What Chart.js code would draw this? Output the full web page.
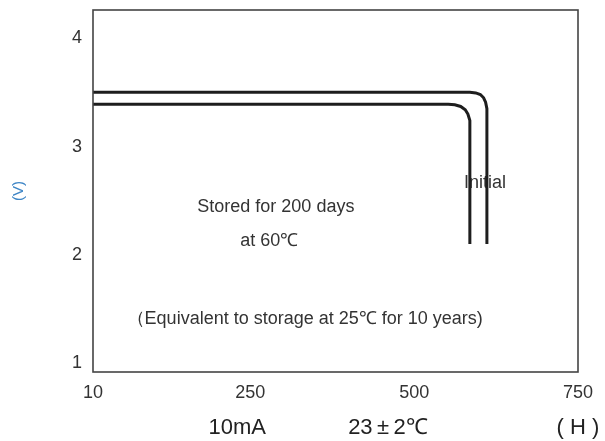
<!DOCTYPE html>
<html lang="en">
<head>
    <meta charset="UTF-8">
    <title>Storage characteristics</title>
    <script src="https://cdn.jsdelivr.net/npm/chart.js"></script>
    <style>
        html, body { margin: 0; padding: 0; background: #fff; overflow: hidden; }
    </style>
</head>
<body>
<canvas id="storageChart" width="605" height="441"></canvas>
<script>
// hours / volts
const xTicks = [10, 250, 500, 750];
const yTicks = [1, 2, 3, 4];

const initialHours = [10, 585, 594, 601, 606, 609, 611, 611];
const initialVolts = [3.50, 3.50, 3.495, 3.48, 3.45, 3.41, 3.35, 2.10];

const storedHours = [10, 552, 562, 571, 578, 582, 585, 585];
const storedVolts = [3.39, 3.39, 3.385, 3.37, 3.34, 3.30, 3.24, 2.10];

const notes = ['Stored for 200 days', 'at 60\u2103', '\uFF08Equivalent to storage at 25\u2103 for 10 years)', 'Initial'];
const noteHours = [289, 279, 333, 608];
const noteVolts = [2.44, 2.13, 1.41, 2.66];

const footNotes = ['10mA', '23\u2009\u00B1\u20092\u2103', '( H )'];
const footHours = [230, 460, 750];

const FONT = "Arial, 'Liberation Sans', Helvetica, sans-serif";

const toPoints = (xs, ys) => xs.map((x, i) => ({ x: x, y: ys[i] }));

const framePlugin = {
    id: 'frame',
    beforeDatasetsDraw(chart) {
        const { ctx, scales } = chart;
        ctx.save();
        ctx.fillStyle = '#333';
        ctx.font = '18px ' + FONT;
        ctx.textAlign = 'center';
        ctx.textBaseline = 'middle';
        notes.forEach((t, i) => {
            ctx.fillText(t, scales.x.getPixelForValue(noteHours[i]), scales.y.getPixelForValue(noteVolts[i]));
        });
        ctx.restore();
    },
    afterDraw(chart) {
        const { ctx, chartArea: a, scales } = chart;
        ctx.save();
        ctx.strokeStyle = '#444';
        ctx.lineWidth = 1.6;
        ctx.strokeRect(a.left, a.top, a.right - a.left, a.bottom - a.top);
        ctx.fillStyle = '#222';
        ctx.font = '22px ' + FONT;
        ctx.textAlign = 'center';
        ctx.textBaseline = 'middle';
        footNotes.forEach((t, i) => {
            ctx.fillText(t, scales.x.getPixelForValue(footHours[i]), 428);
        });
        ctx.restore();
    }
};

const lineStyle = {
    borderColor: '#1e1e1e',
    borderWidth: 3,
    pointRadius: 0,
    tension: 0,
    fill: false
};

new Chart(document.getElementById('storageChart'), {
    type: 'line',
    data: {
        datasets: [
            Object.assign({ label: 'Initial', data: toPoints(initialHours, initialVolts) }, lineStyle),
            Object.assign({ label: 'Stored', data: toPoints(storedHours, storedVolts) }, lineStyle)
        ]
    },
    options: {
        responsive: false,
        animation: false,
        layout: { padding: { top: 10, right: 27, left: 10, bottom: 0 } },
        plugins: { legend: { display: false }, tooltip: { enabled: false } },
        scales: {
            x: {
                type: 'linear',
                min: 10,
                max: 750,
                afterBuildTicks: s => { s.ticks = xTicks.map(v => ({ value: v })); },
                afterFit: s => { s.height = 69; s.paddingLeft = 0; s.paddingRight = 0; },
                grid: { display: false, drawTicks: false },
                border: { display: false },
                ticks: {
                    color: '#333',
                    font: { size: 18, family: FONT },
                    padding: 10,
                    maxRotation: 0,
                    autoSkip: false
                }
            },
            y: {
                min: 0.92,
                max: 4.26,
                afterBuildTicks: s => { s.ticks = yTicks.map(v => ({ value: v })); },
                afterFit: s => { s.width = 83; s.paddingTop = 0; s.paddingBottom = 0; },
                grid: { display: false, drawTicks: false },
                border: { display: false },
                title: {
                    display: true,
                    text: '(V)',
                    color: '#3d85c6',
                    font: { size: 15, family: FONT },
                    padding: 0
                },
                ticks: {
                    color: '#333',
                    font: { size: 18, family: FONT },
                    padding: 11
                }
            }
        }
    },
    plugins: [framePlugin]
});
</script>
</body>
</html>
